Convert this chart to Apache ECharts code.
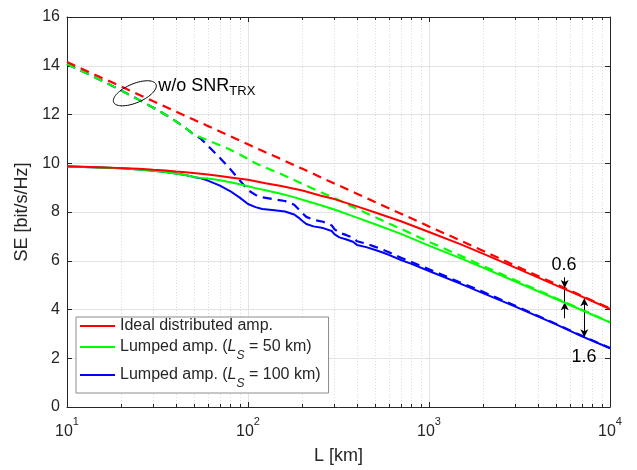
<!DOCTYPE html>
<html><head><meta charset="utf-8">
<script src="https://cdn.jsdelivr.net/npm/echarts@6/dist/echarts.min.js"></script>
<style>html,body{margin:0;padding:0;background:#fff}#c{width:637px;height:470px}</style>
</head><body><div id="c"></div>
<script>
// ---- data ----
const redL = [10,15,20,25,30,35,40,45,50,60,70,80,100,125,150,200,250,300,400,500,700,1000,1500,2000,3000,5000,7000,10000];
const redSolid = [9.88,9.84,9.80,9.77,9.73,9.70,9.66,9.63,9.60,9.54,9.48,9.42,9.32,9.18,9.08,8.88,8.68,8.53,8.23,7.99,7.62,7.18,6.67,6.28,5.72,5.00,4.53,4.02];
const redDashed = [14.15,13.56,13.14,12.81,12.54,12.32,12.12,11.95,11.79,11.53,11.30,11.11,10.78,10.45,10.19,9.77,9.44,9.17,8.75,8.42,7.93,7.41,6.82,6.40,5.80,5.05,4.56,4.04];

const greenL = [10,15,20,25,30,35,40,45,50,55,60,70,80,90,100,110,125,150,175,200,250,300,400,500,700,1000,1500,2000,3000,5000,7000,10000];
const greenSolid = [9.87,9.83,9.79,9.74,9.69,9.64,9.58,9.52,9.44,9.40,9.37,9.30,9.22,9.14,9.06,8.98,8.89,8.76,8.63,8.50,8.29,8.10,7.77,7.51,7.10,6.62,6.10,5.71,5.15,4.44,3.97,3.47];
const greenDashed = [14.07,13.45,12.98,12.60,12.28,11.99,11.72,11.46,11.19,11.06,10.94,10.74,10.55,10.36,10.18,10.00,9.82,9.58,9.36,9.15,8.83,8.57,8.13,7.80,7.31,6.78,6.20,5.78,5.20,4.47,3.99,3.48];

const blueL = [10,15,20,25,30,35,40,45,50,55,60,70,80,90,100,110,120,140,160,180,190,200,210,230,260,290,300,320,350,380,400,450,500,550,600,700,800,1000,1500,2000,3000,5000,7000,10000];
const blueSolid = [9.87,9.83,9.79,9.74,9.69,9.64,9.58,9.52,9.44,9.38,9.29,9.08,8.85,8.59,8.33,8.20,8.12,8.07,8.02,7.90,7.77,7.63,7.51,7.41,7.34,7.22,7.09,6.96,6.87,6.78,6.65,6.56,6.45,6.35,6.24,6.03,5.87,5.58,5.05,4.66,4.12,3.40,2.90,2.41];
const blueDashed = [14.07,13.45,12.98,12.60,12.28,11.99,11.72,11.46,11.19,11.00,10.72,10.22,9.75,9.30,8.90,8.70,8.60,8.52,8.45,8.30,8.12,7.95,7.80,7.68,7.60,7.45,7.30,7.15,7.05,6.95,6.80,6.70,6.58,6.47,6.35,6.12,5.95,5.65,5.10,4.72,4.15,3.42,2.92,2.42];

const minorTicks = [20,30,40,50,60,70,80,90,200,300,400,500,600,700,800,900,2000,3000,4000,5000,6000,7000,8000,9000];
const legendNames = ['Ideal distributed amp.', 'Lumped amp. (LS = 50 km)', 'Lumped amp. (LS = 100 km)'];

// ---- chart ----
const FONT = "'Liberation Sans', Arial, Helvetica, sans-serif";
const AX = '#262626';
const chart = echarts.init(document.getElementById('c'));
const pairs = (xs, ys) => xs.map((x, i) => [x, ys[i]]);

function lineSeries(name, xs, ys, color, dashed, z) {
  return {
    name: name, type: 'line', data: pairs(xs, ys), symbol: 'none', smooth: false,
    lineStyle: {color: color, width: dashed ? 2.2 : 2, type: dashed ? [9, 6] : 'solid'},
    itemStyle: {color: color}, z: z, silent: true
  };
}

const arrowLine = (a, b, sa, sb) => [
  {coord: a, symbol: sa}, {coord: b, symbol: sb}
];

const option = {
  animation: false,
  textStyle: {fontFamily: FONT},
  grid: {left: 67, right: 27, top: 17, bottom: 63, containLabel: false},
  xAxis: [{
    type: 'log', logBase: 10, min: 10, max: 10000, position: 'bottom',
    axisLine: {onZero: false, lineStyle: {color: AX, width: 1}},
    axisTick: {inside: true, length: 5, lineStyle: {color: AX}},
    splitLine: {show: true, lineStyle: {color: '#e3e3e3', width: 1}},
    axisLabel: {
      color: AX, margin: 9, fontFamily: FONT,
      formatter: v => '{b|10}{s|' + Math.round(Math.log10(v)) + '}',
      rich: {
        b: {fontSize: 16, lineHeight: 24, verticalAlign: 'bottom', fontFamily: FONT, color: AX},
        s: {fontSize: 11, lineHeight: 10, verticalAlign: 'top', fontFamily: FONT, color: AX}
      }
    },
    name: 'L [km]', nameLocation: 'middle', nameGap: 40,
    nameTextStyle: {fontSize: 18, color: AX, fontFamily: FONT}
  }, {
    type: 'log', logBase: 10, min: 10, max: 10000, position: 'top',
    axisLine: {onZero: false, lineStyle: {color: AX, width: 1}},
    axisTick: {inside: true, length: 5, lineStyle: {color: AX}},
    axisLabel: {show: false}, splitLine: {show: false}
  }],
  yAxis: [{
    type: 'value', min: 0, max: 16, interval: 2, position: 'left',
    axisLine: {show: true, lineStyle: {color: AX, width: 1}},
    axisTick: {show: true, inside: true, length: 5, lineStyle: {color: AX}},
    splitLine: {show: true, lineStyle: {color: '#e3e3e3', width: 1}},
    axisLabel: {color: AX, fontSize: 16, margin: 7, fontFamily: FONT},
    name: 'SE [bit/s/Hz]', nameLocation: 'middle', nameGap: 34, nameRotate: 90,
    nameTextStyle: {fontSize: 18, color: AX, fontFamily: FONT}
  }, {
    type: 'value', min: 0, max: 16, interval: 2, position: 'right',
    axisLine: {show: true, lineStyle: {color: AX, width: 1}},
    axisTick: {show: true, inside: true, length: 5, lineStyle: {color: AX}},
    splitLine: {show: false}, axisLabel: {show: false}
  }],
  legend: {
    data: legendNames, orient: 'vertical', left: 76, top: 317,
    icon: 'rect', itemWidth: 35, itemHeight: 2, itemGap: 0,
    padding: [1, 8, 3, 4], borderColor: '#8c8c8c', borderWidth: 1,
    backgroundColor: '#ffffff', selectedMode: false,
    textStyle: {fontFamily: FONT, fontSize: 16, color: AX,
      rich: {
        n: {fontSize: 16, lineHeight: 26, fontFamily: FONT, color: AX},
        i: {fontSize: 16, lineHeight: 26, fontStyle: 'italic', fontFamily: FONT, color: AX},
        u: {fontSize: 12, lineHeight: 10, padding: [16, 0, 0, 0], verticalAlign: 'top', fontStyle: 'italic', fontFamily: FONT, color: AX}
      }
    },
    formatter: function (name) {
      if (name === legendNames[0]) return '{n|Ideal distributed amp.}';
      const km = name === legendNames[1] ? '50' : '100';
      return '{n|Lumped amp. (}{i|L}{u|S}{n| = ' + km + ' km)}';
    }
  },
  series: [
    {
      type: 'custom', xAxisIndex: 0, yAxisIndex: 0, silent: true, z: 1,
      data: minorTicks.map(v => [v, 0]),
      renderItem: function (params, api) {
        const v = api.value(0);
        const p0 = api.coord([v, 0]);
        const p1 = api.coord([v, 16]);
        const x = Math.round(p0[0]) + 0.5;
        return {type: 'group', children: [
          {type: 'line', shape: {x1: x, y1: p0[1], x2: x, y2: p1[1]}, style: {stroke: '#dcdcdc', lineWidth: 1, lineDash: [1, 2]}},
          {type: 'line', shape: {x1: x, y1: p0[1], x2: x, y2: p0[1] - 3}, style: {stroke: AX, lineWidth: 1}},
          {type: 'line', shape: {x1: x, y1: p1[1], x2: x, y2: p1[1] + 3}, style: {stroke: AX, lineWidth: 1}}
        ]};
      }
    },
    lineSeries('ls100 w/o', blueL, blueDashed, '#0000ff', true, 2),
    lineSeries('ls50 w/o', greenL, greenDashed, '#00ff00', true, 3),
    lineSeries('ideal w/o', redL, redDashed, '#ff0000', true, 4),
    lineSeries(legendNames[2], blueL, blueSolid, '#0000ff', false, 5),
    lineSeries(legendNames[1], greenL, greenSolid, '#00ff00', false, 6),
    lineSeries(legendNames[0], redL, redSolid, '#ff0000', false, 7),
    {
      name: 'arrows', type: 'line', data: [], silent: true, z: 8,
      markLine: {
        silent: true, animation: false, symbolSize: [6, 8],
        label: {show: false},
        lineStyle: {color: '#000', width: 1, type: 'solid'},
        data: [
          arrowLine([5620, 5.32], [5620, 4.88], 'none', 'arrow'),
          arrowLine([5620, 4.88], [5620, 4.30], 'none', 'none'),
          arrowLine([5620, 3.64], [5620, 4.30], 'none', 'arrow'),
          arrowLine([7210, 4.46], [7210, 2.86], 'arrow', 'arrow')
        ]
      }
    }
  ]
};
chart.setOption(option);

// ---- annotations positioned via the axes ----
const P = v => chart.convertToPixel({xAxisIndex: 0, yAxisIndex: 0}, v);
const ec = P([23.7, 12.87]);
const ellipsePts = [];
const phi = -23 * Math.PI / 180, a = 23, b = 9.5;
for (let k = 0; k < 72; k++) {
  const t = k / 72 * 2 * Math.PI;
  ellipsePts.push([
    ec[0] + a * Math.cos(t) * Math.cos(phi) - b * Math.sin(t) * Math.sin(phi),
    ec[1] + a * Math.cos(t) * Math.sin(phi) + b * Math.sin(t) * Math.cos(phi)
  ]);
}
const tW = P([31.95, 13.16]);
const t06 = P([5571, 5.83]);
const t16 = P([7194, 2.04]);
chart.setOption({
  graphic: [
    {type: 'polygon', shape: {points: ellipsePts}, style: {fill: 'none', stroke: '#000', lineWidth: 1}, z: 10, silent: true},
    {type: 'text', x: tW[0], y: tW[1], z: 10, silent: true, style: {
      text: '{n|w/o SNR}{s|TRX}', verticalAlign: 'middle', align: 'left',
      rich: {
        n: {fontSize: 18, lineHeight: 24, fontFamily: FONT, fill: '#000'},
        s: {fontSize: 13, lineHeight: 13, padding: [11, 0, 0, 0], verticalAlign: 'top', fontFamily: FONT, fill: '#000'}
      }
    }},
    {type: 'text', x: t06[0], y: t06[1], z: 10, silent: true, style: {text: '0.6', fontSize: 18, fontFamily: FONT, fill: '#000', align: 'center', verticalAlign: 'middle'}},
    {type: 'text', x: t16[0], y: t16[1], z: 10, silent: true, style: {text: '1.6', fontSize: 18, fontFamily: FONT, fill: '#000', align: 'center', verticalAlign: 'middle'}}
  ]
});
</script>
</body></html>
